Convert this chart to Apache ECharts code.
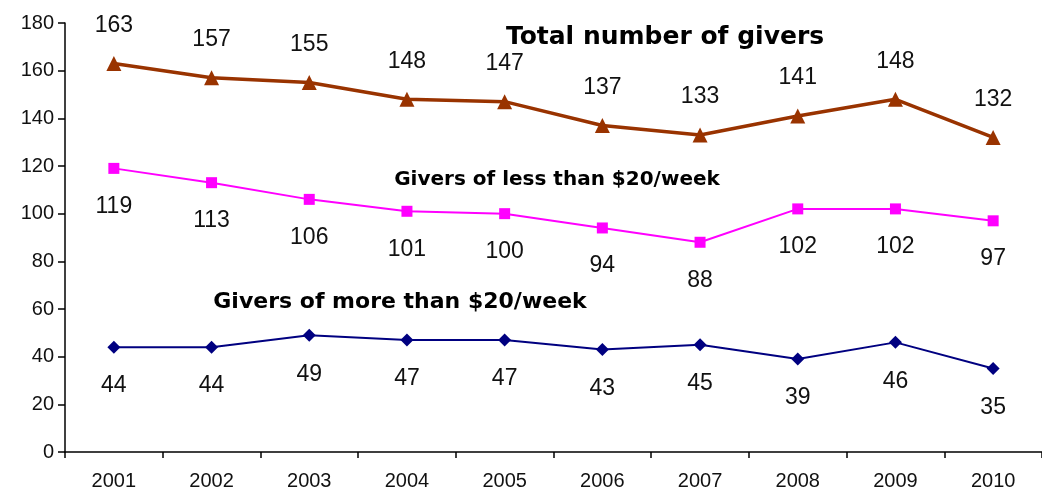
<!DOCTYPE html>
<html>
<head>
<meta charset="utf-8">
<script src="https://cdn.jsdelivr.net/npm/echarts@6/dist/echarts.min.js"></script>
<style>
  html, body { margin: 0; padding: 0; background: #fff; }
  #chart { width: 1042px; height: 493px; }
</style>
</head>
<body>
<div id="chart"></div>
<script>
var years = ['2001','2002','2003','2004','2005','2006','2007','2008','2009','2010'];
var totalGivers = [163, 157, 155, 148, 147, 137, 133, 141, 148, 132];
var lessThan20 = [119, 113, 106, 101, 100, 94, 88, 102, 102, 97];
var moreThan20 = [44, 44, 49, 47, 47, 43, 45, 39, 46, 35];

var chart = echarts.init(document.getElementById('chart'));

var sans = '"Liberation Sans", Arial, sans-serif';
var labelFont = { fontFamily: sans, fontSize: 23, color: '#111' };

chart.setOption({
  animation: false,
  backgroundColor: '#fff',
  grid: { left: 65, top: 23, width: 980, height: 429 },
  xAxis: {
    type: 'category',
    data: years,
    boundaryGap: true,
    axisLine: { lineStyle: { color: '#000', width: 1.5 } },
    axisTick: { show: true, length: 6, lineStyle: { color: '#000', width: 1.5 } },
    axisLabel: { color: '#111', fontFamily: sans, fontSize: 20, margin: 19 },
    splitLine: { show: false }
  },
  yAxis: {
    type: 'value',
    min: 0, max: 180, interval: 20,
    axisLine: { show: true, lineStyle: { color: '#000', width: 1.5 } },
    axisTick: { show: true, length: 7, lineStyle: { color: '#000', width: 1.5 } },
    axisLabel: { color: '#111', fontFamily: sans, fontSize: 20, margin: 11 },
    splitLine: { show: false }
  },
  series: [
    {
      name: 'Total number of givers',
      type: 'line',
      data: totalGivers,
      symbol: 'triangle',
      symbolSize: 15,
      itemStyle: { color: '#993300' },
      lineStyle: { color: '#993300', width: 3.5 },
      label: Object.assign({ show: true, position: 'top', distance: 19 }, labelFont)
    },
    {
      name: 'Givers of less than $20/week',
      type: 'line',
      data: lessThan20,
      symbol: 'rect',
      symbolSize: 11,
      itemStyle: { color: '#ff00ff' },
      lineStyle: { color: '#ff00ff', width: 2 },
      label: Object.assign({ show: true, position: 'bottom', distance: 21 }, labelFont)
    },
    {
      name: 'Givers of more than $20/week',
      type: 'line',
      data: moreThan20,
      symbol: 'diamond',
      symbolSize: 13,
      itemStyle: { color: '#000080' },
      lineStyle: { color: '#000080', width: 2 },
      label: Object.assign({ show: true, position: 'bottom', distance: 21 }, labelFont)
    }
  ],
  graphic: [
    { type: 'text', x: 665, y: 37, style: { text: 'Total number of givers', x: 0, y: 0, align: 'center', verticalAlign: 'middle', font: 'bold 25px "DejaVu Sans", Verdana, sans-serif', fill: '#000' } },
    { type: 'text', x: 557, y: 180, style: { text: 'Givers of less than $20/week', x: 0, y: 0, align: 'center', verticalAlign: 'middle', font: 'bold 20px "DejaVu Sans", Verdana, sans-serif', fill: '#000' } },
    { type: 'text', x: 400, y: 302, style: { text: 'Givers of more than $20/week', x: 0, y: 0, align: 'center', verticalAlign: 'middle', font: 'bold 22px "DejaVu Sans", Verdana, sans-serif', fill: '#000' } }
  ]
});
</script>
</body>
</html>
